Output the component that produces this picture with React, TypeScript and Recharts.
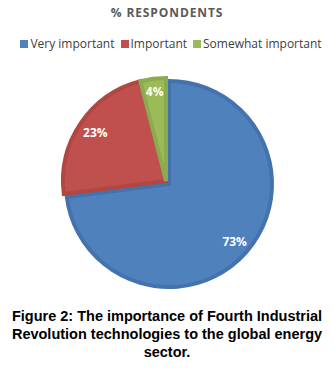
import React from 'react';
import { PieChart, Pie, Cell } from 'recharts';

const categories = ['Very important', 'Important', 'Somewhat important'];
const values = [73, 23, 4];
const labels = ['73%', '23%', '4%'];
const fills = ['#4F81BD', '#C0504D', '#9BBB59'];
const strokes = ['#4472AC', '#B04743', '#8CAA4E'];

const data = categories.map((name, i) => ({ name, value: values[i] }));

const RADIAN = Math.PI / 180;

const makeLabel = (visible: number, rFactor: number) => (props: any) => {
  const { cx, cy, midAngle, outerRadius, index } = props;
  if (index !== visible) return null;
  const r = outerRadius * rFactor;
  const x = cx + r * Math.cos(-midAngle * RADIAN);
  const y = cy + r * Math.sin(-midAngle * RADIAN);
  return (
    <text
      x={x}
      y={y}
      fill="#FFFFFF"
      textAnchor="middle"
      dominantBaseline="central"
      fontFamily="'Open Sans', sans-serif"
      fontWeight={700}
      fontSize={12}
    >
      {labels[index]}
    </text>
  );
};

const offsets = [
  { cx: 169, cy: 184 },
  { cx: 166, cy: 181 },
  { cx: 166, cy: 181 },
];
const labelFactors = [0.85, 0.83, 0.88];

export default function App() {
  return (
    <div style={{ position: 'absolute', left: 0, top: 0, width: 334, height: 373, background: '#fff' }}>
      <div
        style={{
          position: 'absolute',
          top: 4,
          left: 0,
          width: 334,
          textAlign: 'center',
          fontFamily: "'Open Sans', sans-serif",
          fontWeight: 700,
          fontSize: 12,
          letterSpacing: 0.9,
          color: '#595959',
        }}
      >
        % RESPONDENTS
      </div>
      <div
        style={{
          position: 'absolute',
          top: 35,
          left: 8,
          width: 326,
          display: 'flex',
          justifyContent: 'center',
          alignItems: 'center',
          fontFamily: "'Open Sans', sans-serif",
          fontSize: 12,
          color: '#404040',
          whiteSpace: 'nowrap',
        }}
      >
        {categories.map((c, i) => (
          <span key={c} style={{ display: 'inline-flex', alignItems: 'center', marginRight: i < 2 ? 6 : 0 }}>
            <span style={{ display: 'inline-block', width: 8, height: 8, background: fills[i], marginRight: 2 }} />
            {c}
          </span>
        ))}
      </div>
      <div style={{ position: 'absolute', left: 0, top: 0 }}>
        <PieChart width={334} height={300} margin={{ top: 0, right: 0, bottom: 0, left: 0 }}>
          {[0, 1, 2].map((k) => (
            <Pie
              key={k}
              data={data}
              dataKey="value"
              nameKey="name"
              cx={offsets[k].cx}
              cy={offsets[k].cy}
              outerRadius={103}
              startAngle={90}
              endAngle={-270}
              isAnimationActive={false}
              labelLine={false}
              label={makeLabel(k, labelFactors[k])}
              legendType="none"
            >
              {data.map((d, i) => (
                <Cell
                  key={d.name}
                  fill={i === k ? fills[i] : 'none'}
                  stroke={i === k ? strokes[i] : 'none'}
                  strokeWidth={4}
                />
              ))}
            </Pie>
          ))}
        </PieChart>
      </div>
      <div
        style={{
          position: 'absolute',
          top: 307,
          left: 0,
          width: 334,
          textAlign: 'center',
          fontFamily: "'Liberation Sans', Arial, sans-serif",
          fontWeight: 700,
          fontSize: 14.5,
          lineHeight: '18px',
          color: '#000',
        }}
      >
        Figure 2: The importance of Fourth Industrial
        <br />
        Revolution technologies to the global energy
        <br />
        sector.
      </div>
    </div>
  );
}
